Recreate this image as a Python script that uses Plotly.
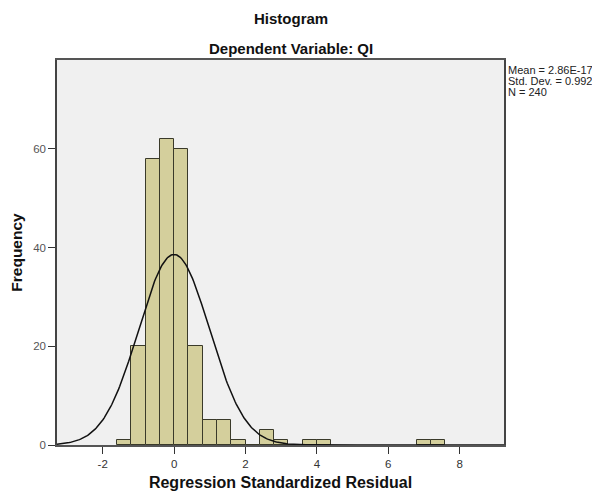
import numpy as np
import plotly.graph_objects as go

# Data
bin_left_edges = [-1.6, -1.2, -0.8, -0.4, 0.0, 0.4, 0.8, 1.2, 1.6, 2.0, 2.4, 2.8, 3.2, 3.6, 4.0, 6.8, 7.2]
counts =         [1,    20,   58,   62,   60,  20,  5,   5,   1,   0,   3,   1,   0,   1,   1,   1,   1]
bin_width = 0.4
mean_val = 2.86e-17
std_dev = 0.992
n_total = 240
x_ticks = [-2, 0, 2, 4, 6, 8]
x_tick_labels = ["-2", "0", "2", "4", "6", "8"]
y_ticks = [0, 20, 40, 60]
stats_lines = ["Mean = 2.86E-17", f"Std. Dev. = {std_dev}", f"N = {n_total}"]

centers = [e + bin_width / 2 for e in bin_left_edges]

# Normal curve from the stated statistics
xc = np.linspace(-3.28, 9.24, 400)
yc = n_total * bin_width / (std_dev * np.sqrt(2 * np.pi)) * np.exp(-0.5 * ((xc - mean_val) / std_dev) ** 2)

font = "Liberation Sans, Arial, sans-serif"

fig = go.Figure()
fig.add_trace(go.Bar(
    x=centers, y=counts, width=bin_width,
    marker=dict(color="#d4cf9c", line=dict(color="#3a3a2a", width=1)),
    hoverinfo="x+y",
))
fig.add_trace(go.Scatter(
    x=xc, y=yc, mode="lines", line=dict(color="#111111", width=1.5),
    hoverinfo="skip",
))

annotations = [
    dict(text="<b>Histogram</b>", xref="paper", yref="paper", x=0.5235, y=1.0,
         yanchor="middle", yshift=42, showarrow=False, font=dict(size=15, color="#111111")),
    dict(text="<b>Dependent Variable: QI</b>", xref="paper", yref="paper", x=0.5235, y=1.0,
         yanchor="middle", yshift=12, showarrow=False, font=dict(size=15, color="#111111")),
]
for i, line in enumerate(stats_lines):
    annotations.append(dict(
        text=line, xref="paper", yref="paper", x=1.0, y=1.0, xanchor="left", yanchor="middle",
        xshift=2, yshift=-10 - 11 * i, showarrow=False, font=dict(size=11, color="#222222"),
    ))

fig.update_layout(
    width=592, height=487,
    margin=dict(l=49, r=96, t=52, b=50),
    paper_bgcolor="white", plot_bgcolor="#f0f0f0",
    showlegend=False, bargap=0,
    font=dict(family=font, size=11.5, color="#333333"),
    annotations=annotations,
)

fig.update_xaxes(
    range=[-3.28, 9.24], tickvals=x_ticks, ticktext=x_tick_labels,
    ticks="outside", ticklen=7, tickcolor="#333333",
    showgrid=False, zeroline=False, showline=True, linecolor="#555555", linewidth=1.5,
    mirror=True, automargin=False,
    title=dict(text="<b>Regression Standardized Residual</b>", font=dict(size=16, color="#111111"), standoff=8),
    tickfont=dict(size=11.5, color="#333333"),
)
fig.update_yaxes(
    range=[0, 78], tickvals=y_ticks, ticks="outside", ticklen=7, tickcolor="#333333",
    showgrid=False, zeroline=False, showline=True, linecolor="#444444", linewidth=1.5,
    mirror=True, automargin=False,
    title=dict(text="<b>Frequency</b>", font=dict(size=15.5, color="#111111"), standoff=7),
    tickfont=dict(size=11.5, color="#555555"),
)

fig.write_html("out.html")
